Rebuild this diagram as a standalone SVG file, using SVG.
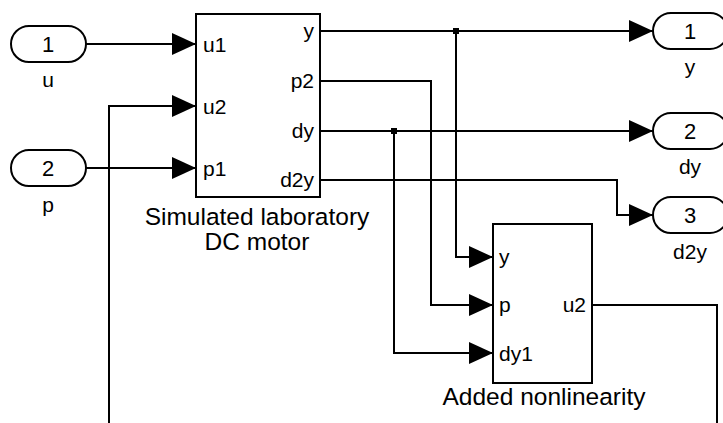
<svg xmlns="http://www.w3.org/2000/svg" width="723" height="423" viewBox="0 0 723 423">
<defs>
<marker id="arr" markerUnits="userSpaceOnUse" markerWidth="24" markerHeight="22" refX="24" refY="11" orient="auto" overflow="visible">
<path d="M0,0 L24,11 L0,22 Z" fill="#000"/>
</marker>
<style>
text{font-family:"Liberation Sans",Arial,sans-serif;fill:#000}
.blk{fill:#fff;stroke:#000;stroke-width:2}
.port{fill:#fff;stroke:#000;stroke-width:2}
.num{font-size:22px;text-anchor:middle}
.lbl{font-size:21px}
.cap{font-size:24.5px;text-anchor:middle}
.mid{text-anchor:middle}
.end{text-anchor:end}
.w{fill:none;stroke:#000;stroke-width:2}
.wa{fill:none;stroke:#000;stroke-width:2;marker-end:url(#arr)}
</style>
</defs>
<rect width="723" height="423" fill="#fff"/>

<g id="connectors">
<path class="wa" d="M86,44 H196"/>
<path class="wa" d="M86,168 H196"/>
<path class="wa" d="M109,430 V106 H196"/>
<path class="wa" d="M320,31 H653"/>
<path class="wa" d="M456,31 V257 H493"/>
<path class="wa" d="M320,81 H431 V305 H493"/>
<path class="wa" d="M320,131 H653"/>
<path class="wa" d="M394,131 V353 H493"/>
<path class="wa" d="M320,180 H617 V215 H653"/>
<path class="w" d="M592,305 H717 V430"/>
<rect x="453" y="28" width="6" height="6" fill="#000"/>
<rect x="391" y="128" width="6" height="6" fill="#000"/>
</g>

<g id="in1">
<rect class="port" x="11" y="26" width="75" height="36" rx="18"/>
<text class="num" x="48" y="52">1</text>
<text class="lbl mid" x="48" y="87">u</text>
</g>
<g id="in2">
<rect class="port" x="11" y="150" width="75" height="36" rx="18"/>
<text class="num" x="48" y="176">2</text>
<text class="lbl mid" x="48" y="212">p</text>
</g>

<g id="motor">
<rect class="blk" x="196" y="14" width="124" height="183"/>
<text class="lbl" x="203" y="52">u1</text>
<text class="lbl" x="203" y="114">u2</text>
<text class="lbl" x="203" y="176">p1</text>
<text class="lbl end" x="314" y="38">y</text>
<text class="lbl end" x="314" y="88">p2</text>
<text class="lbl end" x="314" y="138">dy</text>
<text class="lbl end" x="314" y="187">d2y</text>
<text class="cap" x="257" y="225">Simulated laboratory</text>
<text class="cap" x="257" y="250">DC motor</text>
</g>

<g id="nonlin">
<rect class="blk" x="493" y="224" width="99" height="159"/>
<text class="lbl" x="499" y="264">y</text>
<text class="lbl" x="499" y="312">p</text>
<text class="lbl" x="499" y="361">dy1</text>
<text class="lbl end" x="586" y="312">u2</text>
<text class="cap" x="544" y="405">Added nonlinearity</text>
</g>

<g id="out1">
<rect class="port" x="653" y="13" width="75" height="36" rx="18"/>
<text class="num" x="690" y="39">1</text>
<text class="lbl mid" x="690" y="74">y</text>
</g>
<g id="out2">
<rect class="port" x="653" y="113" width="75" height="36" rx="18"/>
<text class="num" x="690" y="139">2</text>
<text class="lbl mid" x="690" y="174">dy</text>
</g>
<g id="out3">
<rect class="port" x="653" y="197" width="75" height="36" rx="18"/>
<text class="num" x="690" y="223">3</text>
<text class="lbl mid" x="690" y="259">d2y</text>
</g>
</svg>
